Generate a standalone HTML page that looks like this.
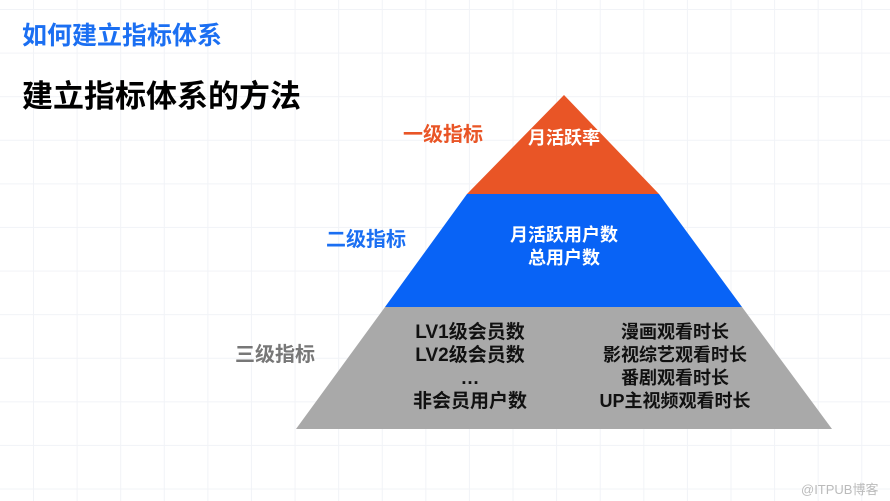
<!DOCTYPE html>
<html><head><meta charset="utf-8"><style>
body{margin:0;width:890px;height:501px;overflow:hidden;background:#fff;font-family:"Liberation Sans","Noto Sans CJK SC",sans-serif;position:relative;
background-image:linear-gradient(#f1f3f7 1px,transparent 1px),linear-gradient(90deg,#f1f3f7 1px,transparent 1px);background-size:43.6px 43.6px;background-position:33px 9px;}
.t{position:absolute;font-weight:bold;white-space:nowrap;line-height:1}
.c{text-align:center;width:240px}
</style></head><body>
<div class="t" style="left:22px;top:24px;font-size:25px;color:#1b6ff2">如何建立指标体系</div>
<div class="t" style="left:22px;top:81px;font-size:31px;color:#000">建立指标体系的方法</div>
<svg style="position:absolute;left:0;top:0" width="890" height="501">
<polygon points="564,95 659,194 467,194" fill="#e95526"/>
<polygon points="467,194 659,194 742,307 385,307" fill="#0863f6"/>
<polygon points="385,307 742,307 832,429 296,429" fill="#a9a9a9"/>
</svg>
<div class="t" style="left:403px;top:125px;font-size:20px;color:#e95526">一级指标</div>
<div class="t" style="left:326px;top:230px;font-size:20px;color:#1b6ff2">二级指标</div>
<div class="t" style="left:235px;top:345px;font-size:20px;color:#777">三级指标</div>
<div class="t c" style="left:444px;top:129px;font-size:18px;color:#fff">月活跃率</div>
<div class="t c" style="left:444px;top:224px;font-size:18px;color:#fff;line-height:23px">月活跃用户数<br>总用户数</div>
<div class="t c" style="left:350px;top:321px;font-size:19px;color:#111;line-height:23px">LV1级会员数<br>LV2级会员数<br>…<br>非会员用户数</div>
<div class="t c" style="left:555px;top:321px;font-size:18px;color:#111;line-height:23px">漫画观看时长<br>影视综艺观看时长<br>番剧观看时长<br>UP主视频观看时长</div>
<div class="t" style="left:801px;top:483px;font-size:13px;font-weight:normal;color:#bbb">@ITPUB博客</div>
</body></html>
